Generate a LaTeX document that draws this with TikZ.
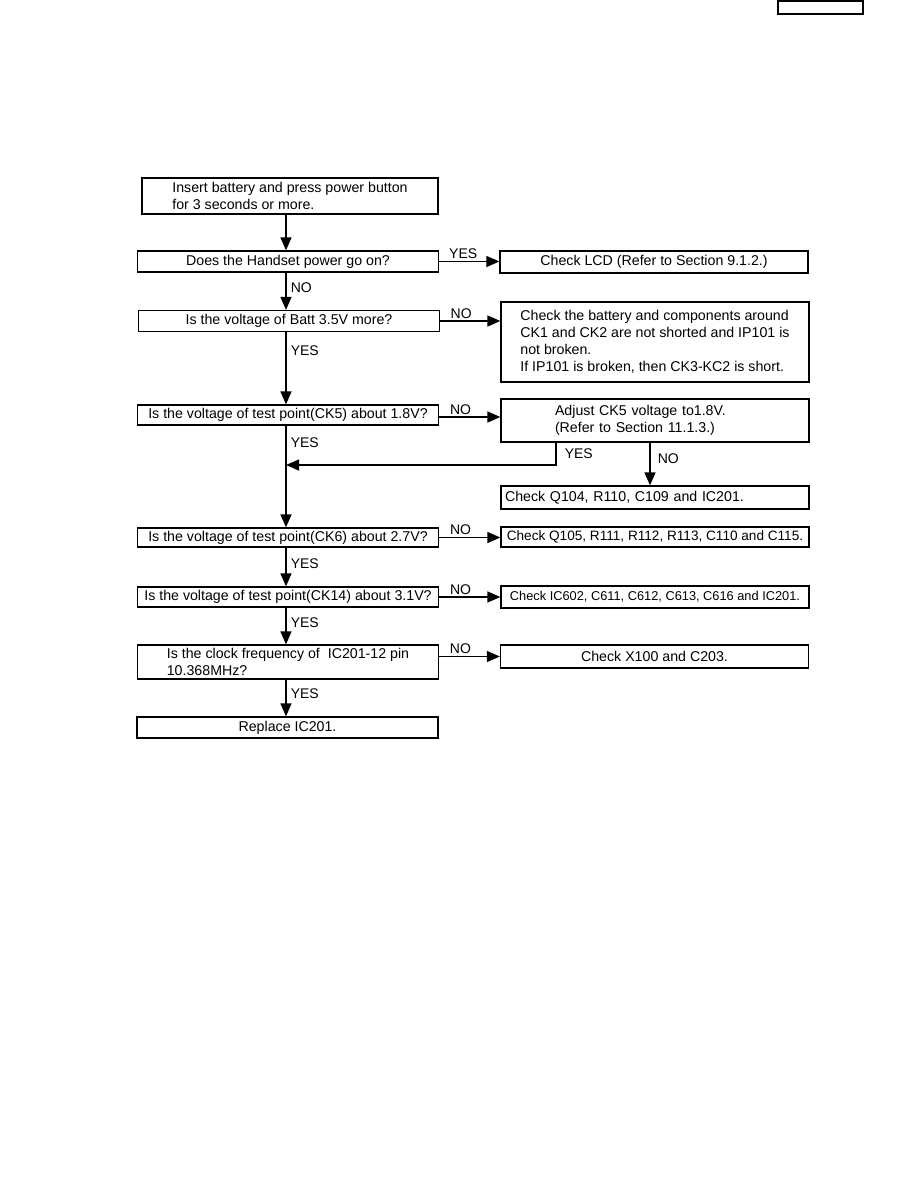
\documentclass[tikz,border=0pt]{standalone}
\usepackage{fontspec}
\setmainfont{Liberation Sans}
\usetikzlibrary{positioning,arrows.meta,calc}
\tikzset{
  >={Triangle[length=13pt,width=11pt]},
  box/.style={draw, line width=1.3pt, minimum height=21pt, inner sep=2pt, align=center,
              font=\fontsize{14.2}{17}\selectfont},
  ask/.style={box, minimum width=301pt},
  res/.style={box, minimum width=308pt},
  lbl/.style={font=\fontsize{14}{16}\selectfont, inner sep=2pt},
  l/.style={->, line width=1.5pt},
}
\begin{document}
\begin{tikzpicture}[x=1pt,y=-1pt]
  \useasboundingbox (0,0) rectangle (918,1188);
  \node[box,minimum width=85pt,minimum height=13pt] (pg) at (820.5,7.5) {};
  % left column: questions
  \node[box,minimum width=296pt,minimum height=36pt,align=left] (start) at (290,196)
    {Insert battery and press power button\\for 3 seconds or more.};
  \node[ask] (q1) at (288,261.5) {Does the Handset power go on?};
  \node[ask] (q2) at (289,321) {Is the voltage of Batt 3.5V more?};
  \node[ask,minimum height=20pt] (q3) at (288,415) {Is the voltage of test point(CK5) about 1.8V?};
  \node[ask,minimum height=19pt] (q4) at (288,537.5) {Is the voltage of test point(CK6) about 2.7V?};
  \node[ask,minimum height=20pt] (q5) at (288,597) {Is the voltage of test point(CK14) about 3.1V?};
  \node[ask,minimum height=34pt,align=left] (q6) at (288,662)
    {Is the clock frequency of \ IC201-12 pin\\10.368MHz?};
  \node[ask] (rep) at (287.5,727.5) {Replace IC201.};
  % right column: actions
  \node[res,minimum height=22pt] (lcd) at (654,262) {Check LCD (Refer to Section 9.1.2.)};
  \node[res,minimum height=80pt,align=left] (batt) at (655,342)
    {Check the battery and components around\\CK1 and CK2 are not shorted and IP101 is\\not broken.\\If IP101 is broken, then CK3-KC2 is short.};
  \node[res,minimum height=43pt,align=left,text width=200pt] (adj) at (655,420.5)
    {Adjust CK5 voltage to1.8V.\\(Refer to Section 11.1.3.)};
  \node[res,minimum height=23pt,align=left,text width=300pt] (c104) at (655,497.5)
    {Check Q104, R110, C109 and IC201.};
  \node[res,minimum height=20pt,font=\fontsize{13.6}{17}\selectfont] (c105) at (655,537)
    {Check Q105, R111, R112, R113, C110 and C115.};
  \node[res,minimum height=22pt,font=\fontsize{12.8}{17}\selectfont] (c602) at (655,597)
    {Check IC602, C611, C612, C613, C616 and IC201.};
  \node[res,minimum height=23pt] (cx) at (654.5,656.5) {Check X100 and C203.};
  \coordinate (mx) at (286,0);
  \coordinate (ys) at (556,443);
  \coordinate (jn) at (286,465);
  \coordinate (nx) at (650,0);
  % main line down
  \draw[l] (start.south -| mx) -- (q1.north -| mx);
  \draw[l] (q1.south -| mx) -- node[lbl,right,pos=0.41,xshift=2pt] (n1) {NO} (q2.north -| mx);
  \draw[l] (q2.south -| mx) -- node[lbl,right,pos=0.26,xshift=2pt] (y2) {YES} (q3.north -| mx);
  \draw[l] (q3.south -| mx) -- node[lbl,right,pos=0.17,xshift=2pt] (y3) {YES} (q4.north -| mx);
  \draw[l] (q4.south -| mx) -- node[lbl,right,pos=0.42,xshift=2pt] (y4) {YES} (q5.north -| mx);
  \draw[l] (q5.south -| mx) -- node[lbl,right,pos=0.42,xshift=2pt] (y5) {YES} (q6.north -| mx);
  \draw[l] (q6.south -| mx) -- node[lbl,right,pos=0.39,xshift=2pt] (y6) {YES} (rep.north -| mx);
  % branches to the right
  \draw[l] (q1.east) -- node[lbl,above,pos=0.4] (y1) {YES} (q1.east -| lcd.west);
  \draw[l] (q2.east) -- node[lbl,above,pos=0.35] (n2) {NO} (q2.east -| batt.west);
  \draw[l] ($(q3.east)+(0,2)$) -- node[lbl,above,pos=0.35] (n3) {NO} ($(q3.east -| adj.west)+(0,2)$);
  \draw[l] (q4.east) -- node[lbl,above,pos=0.35] (n4) {NO} (q4.east -| c105.west);
  \draw[l] (q5.east) -- node[lbl,above,pos=0.35] (n5) {NO} (q5.east -| c602.west);
  \draw[l] (q6.east |- cx) -- node[lbl,above,pos=0.35] (n6) {NO} (cx);
  % back from the adjust box
  \draw[l] (ys) |- node[lbl,right,pos=0.25,xshift=6pt] (ya) {YES} (jn);
  \draw[l] (adj.south -| nx) -- node[lbl,right,pos=0.38,xshift=5pt] (na) {NO} (c104.north -| nx);
\end{tikzpicture}
\end{document}
